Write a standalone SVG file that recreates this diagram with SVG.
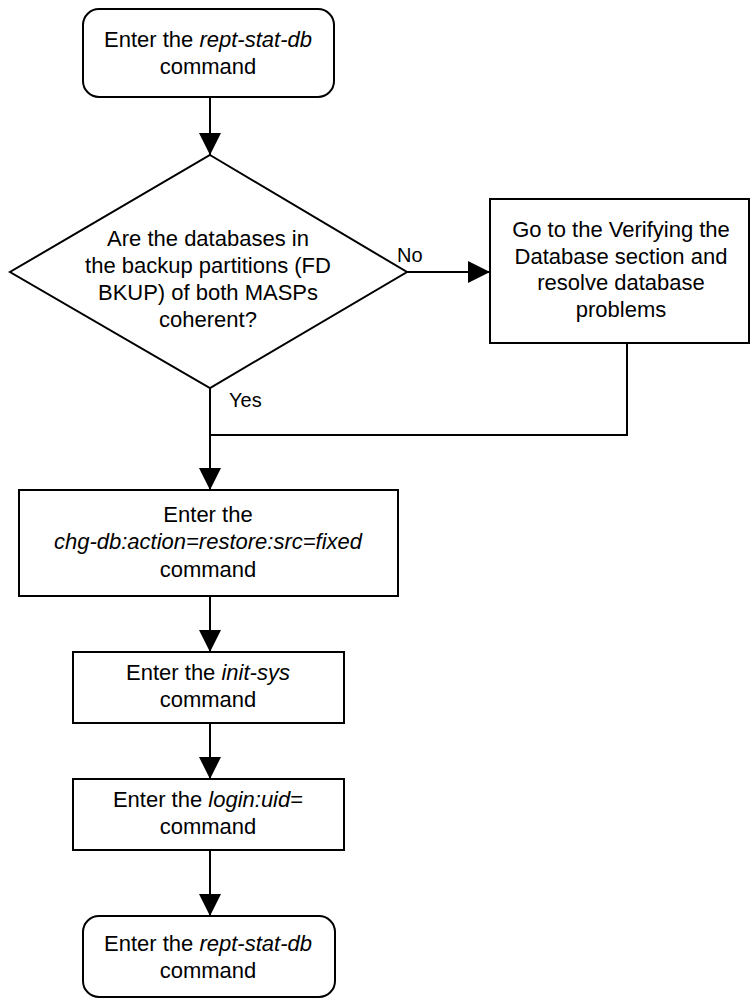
<svg xmlns="http://www.w3.org/2000/svg" width="750" height="999" viewBox="0 0 750 999">
<style>
.s{fill:#fff;stroke:#000;stroke-width:2}
.c{fill:none;stroke:#000;stroke-width:2}
text{font-family:"Liberation Sans",Arial,sans-serif;font-size:22px;fill:#000;text-anchor:middle}
.l{font-size:20px;text-anchor:start}
.i{font-style:italic}
</style>
<defs>
<marker id="a" markerUnits="userSpaceOnUse" markerWidth="22" markerHeight="22" refX="22" refY="11" orient="auto">
<path d="M0,0 L22,11 L0,22 Z" fill="#000"/>
</marker>
</defs>
<g id="connectors">
<line class="c" x1="210" y1="97" x2="210" y2="155" marker-end="url(#a)"/>
<line class="c" x1="407" y1="272" x2="490" y2="272" marker-end="url(#a)"/>
<polyline class="c" points="627,343 627,435 210,435"/>
<line class="c" x1="210" y1="388" x2="210" y2="490" marker-end="url(#a)"/>
<line class="c" x1="210" y1="596" x2="210" y2="652" marker-end="url(#a)"/>
<line class="c" x1="210" y1="723" x2="210" y2="779" marker-end="url(#a)"/>
<line class="c" x1="210" y1="850" x2="210" y2="916" marker-end="url(#a)"/>
<text class="l" x="397" y="262">No</text>
<text class="l" x="229" y="407">Yes</text>
</g>
<g id="start">
<rect class="s" x="83" y="9" width="251" height="88" rx="16"/>
<text x="208" y="47">Enter the <tspan class="i">rept-stat-db</tspan></text>
<text x="208" y="74">command</text>
</g>
<g id="decision">
<polygon class="s" points="210,155 407,272 210,388 10,272"/>
<text x="208" y="246">Are the databases in</text>
<text x="208" y="273">the backup partitions (FD</text>
<text x="208" y="300">BKUP) of both MASPs</text>
<text x="208" y="327">coherent?</text>
</g>
<g id="verify">
<rect class="s" x="490" y="199" width="259" height="144"/>
<text x="621" y="237">Go to the Verifying the</text>
<text x="621" y="264">Database section and</text>
<text x="621" y="290">resolve database</text>
<text x="621" y="317">problems</text>
</g>
<g id="chgdb">
<rect class="s" x="19" y="490" width="379" height="106"/>
<text x="208" y="522">Enter the</text>
<text x="208" y="549" class="i">chg-db:action=restore:src=fixed</text>
<text x="208" y="577">command</text>
</g>
<g id="initsys">
<rect class="s" x="73" y="652" width="271" height="71"/>
<text x="208" y="680">Enter the <tspan class="i">init-sys</tspan></text>
<text x="208" y="707">command</text>
</g>
<g id="login">
<rect class="s" x="73" y="779" width="271" height="71"/>
<text x="208" y="807">Enter the <tspan class="i">login:uid</tspan>=</text>
<text x="208" y="834">command</text>
</g>
<g id="end">
<rect class="s" x="83" y="916" width="252" height="81" rx="16"/>
<text x="208" y="951">Enter the <tspan class="i">rept-stat-db</tspan></text>
<text x="208" y="978">command</text>
</g>
</svg>
